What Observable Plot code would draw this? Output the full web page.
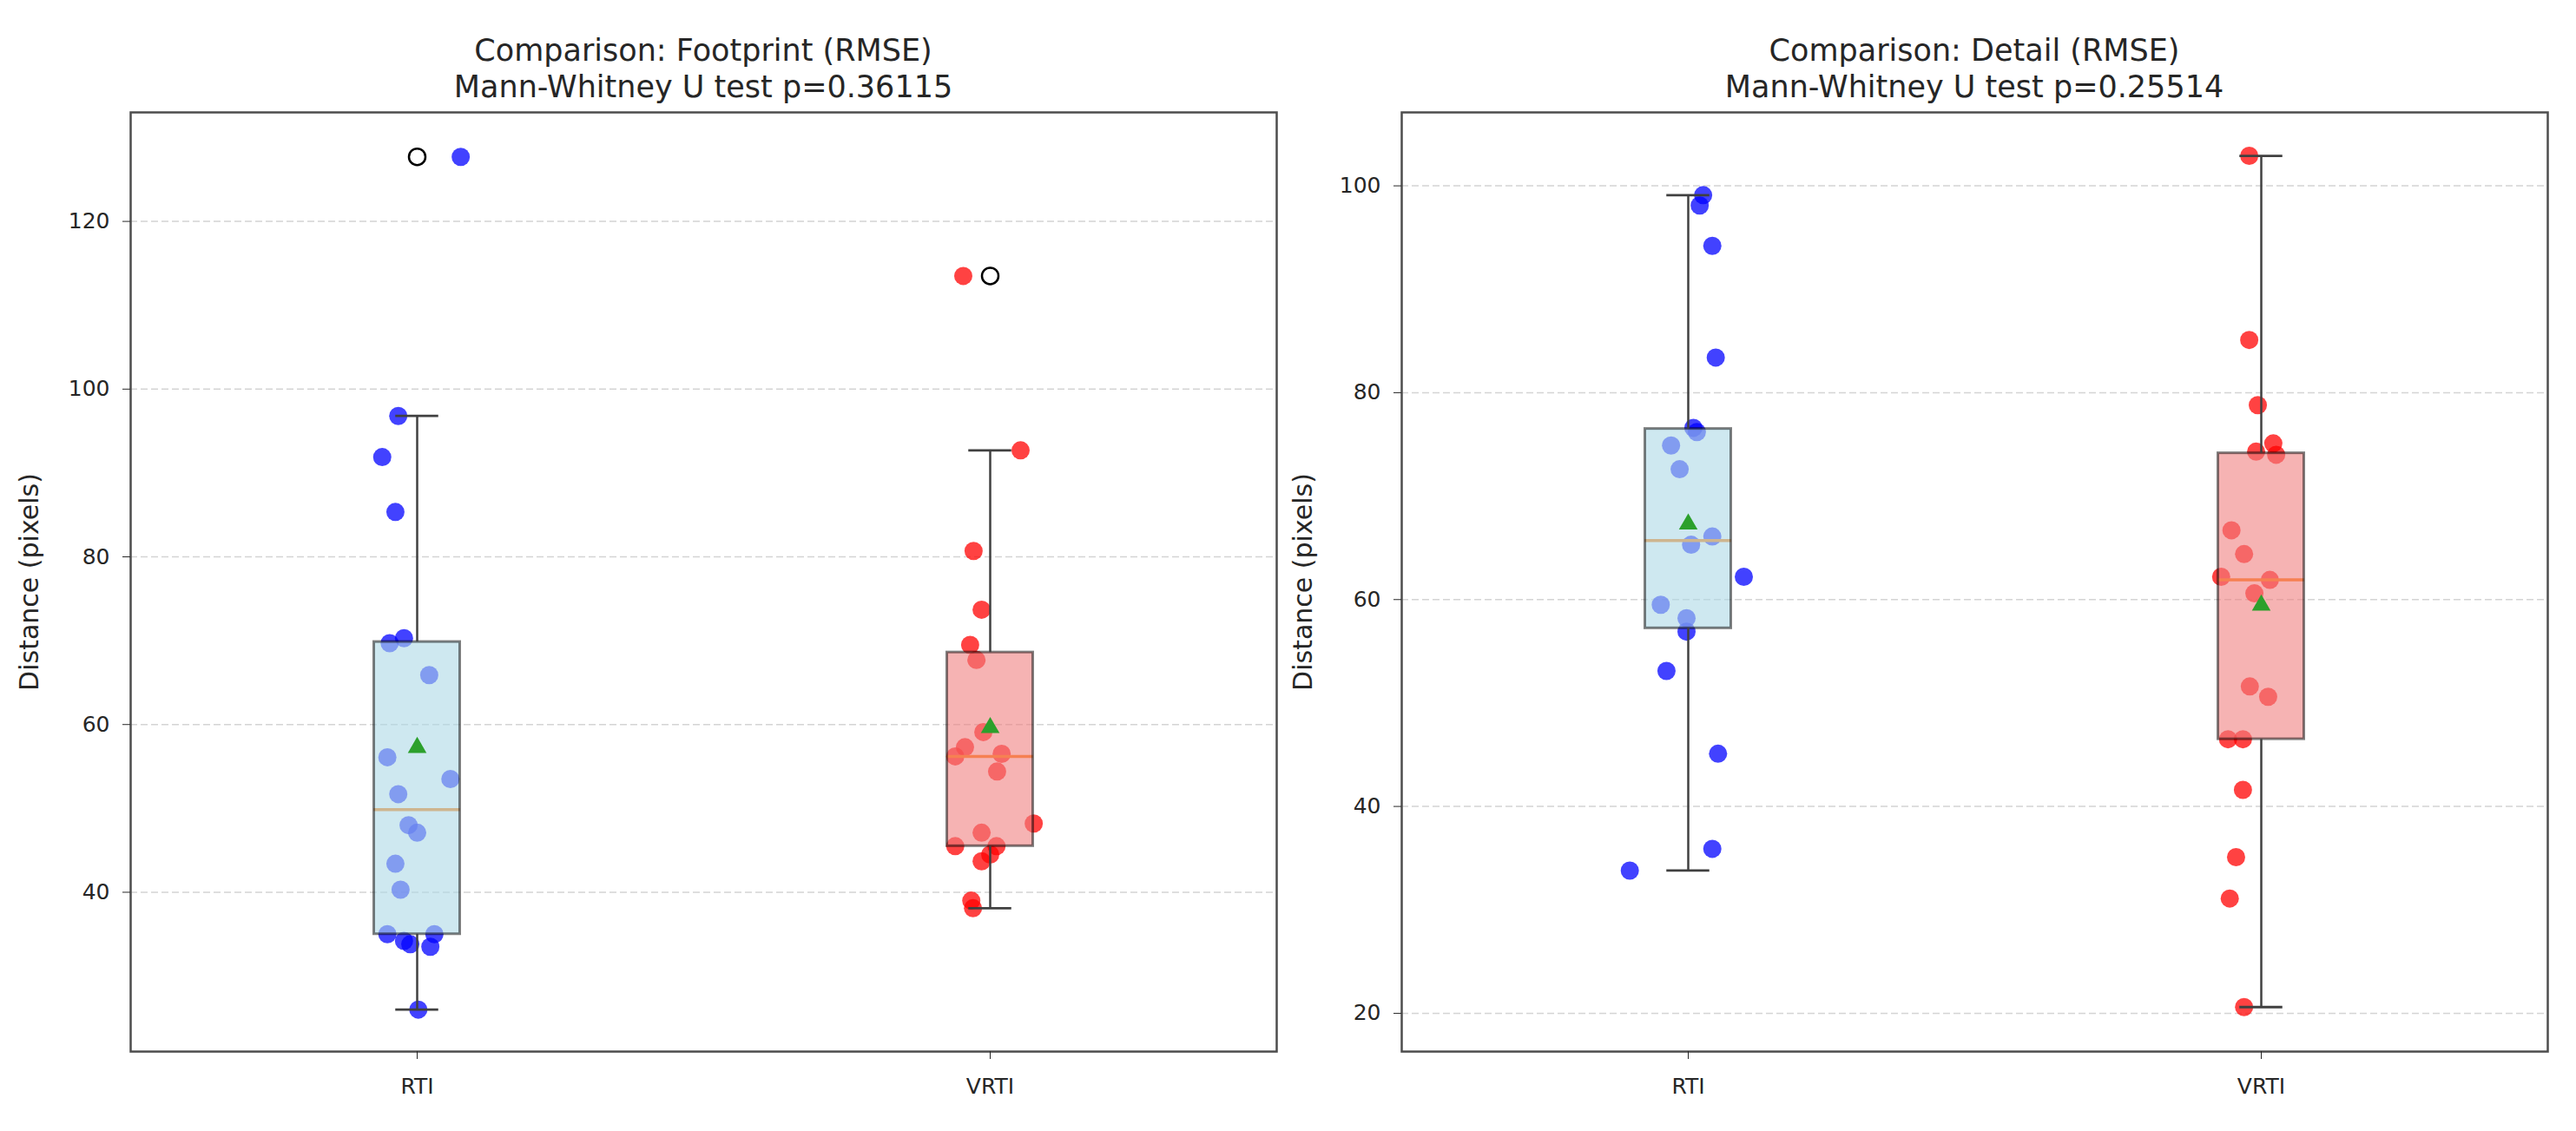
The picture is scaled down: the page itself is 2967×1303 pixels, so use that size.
<!DOCTYPE html>
<html><head><meta charset="utf-8">
<script src="https://cdn.jsdelivr.net/npm/d3@7"></script>
<script src="https://cdn.jsdelivr.net/npm/@observablehq/plot@0.6"></script>
<style>
body{margin:0;background:#fff;}
#wrap{position:relative;width:2967px;height:1303px;overflow:hidden;font-family:"DejaVu Sans",sans-serif;background:#fff;}
.title{position:absolute;text-align:center;font-size:35px;line-height:42px;color:#262626;white-space:pre;z-index:2;}
.panel{position:absolute;top:109px;z-index:1;}
</style></head><body>
<div id="wrap">
  <div class="title" id="title0" style="left:150px;width:1320px;top:37px"></div>
  <div class="title" id="title1" style="left:1614px;width:1320px;top:37px"></div>
  <div class="panel" id="panel0" style="left:0px"></div>
  <div class="panel" id="panel1" style="left:1470px"></div>
</div>
<script>
// ---- data ----
const groups = ["RTI", "VRTI"];
const groupColors = ["blue", "red"];
const boxColors = ["lightblue", "lightcoral"];
const titles = ["Comparison: Footprint (RMSE)", "Comparison: Detail (RMSE)"];
const pValues = ["0.36115", "0.25514"];
const yLabel = "Distance (pixels)";

const footprintRTI = [127.7, 96.8, 91.9, 85.35, 70.3, 69.7, 65.9, 56.1, 53.5, 51.7, 48.0, 47.1, 43.4, 40.3, 35.0, 34.2, 33.8, 35.0, 33.5, 26.0];
const footprintRTIJitter = [0.076, -0.033, -0.061, -0.038, -0.023, -0.048, 0.021, -0.052, 0.058, -0.033, -0.015, 0.0, -0.038, -0.029, -0.052, -0.023, -0.012, 0.030, 0.023, 0.002];
const footprintVRTI = [113.5, 92.7, 80.7, 73.7, 69.5, 67.7, 59.1, 57.3, 56.2, 56.5, 54.4, 48.2, 47.1, 45.5, 45.5, 44.5, 43.7, 39.0, 38.1];
const footprintVRTIJitter = [-0.047, 0.053, -0.029, -0.015, -0.035, -0.024, -0.012, -0.044, -0.061, 0.020, 0.012, 0.076, -0.015, -0.061, 0.011, 0.0, -0.015, -0.033, -0.030];

const detailRTI = [99.1, 98.1, 94.2, 83.4, 76.6, 76.2, 74.9, 72.6, 66.1, 65.3, 62.2, 59.5, 58.2, 56.9, 53.1, 45.1, 35.9, 33.8];
const detailRTIJitter = [0.026, 0.020, 0.042, 0.048, 0.009, 0.015, -0.030, -0.015, 0.042, 0.005, 0.097, -0.048, -0.003, -0.003, -0.038, 0.052, 0.042, -0.102];
const detailVRTI = [102.9, 85.1, 78.8, 75.1, 74.3, 74.0, 66.7, 64.4, 62.2, 61.9, 60.6, 51.6, 50.6, 46.5, 46.5, 41.6, 35.1, 31.1, 20.6];
const detailVRTIJitter = [-0.021, -0.021, -0.006, 0.021, -0.009, 0.026, -0.052, -0.030, -0.070, 0.015, -0.012, -0.020, 0.012, -0.058, -0.032, -0.032, -0.044, -0.055, -0.030];

const footprintTicks = [40, 60, 80, 100, 120];
const detailTicks = [20, 40, 60, 80, 100];
const footprintDomain = [21, 133];
const detailDomain = [16.3, 107.1];

// ---- helpers ----
function boxStats(vals, pos) {
  const s = vals.slice().sort(d3.ascending);
  const q1 = d3.quantile(s, 0.25), med = d3.quantile(s, 0.5), q3 = d3.quantile(s, 0.75);
  const iqr = q3 - q1, loF = q1 - 1.5 * iqr, hiF = q3 + 1.5 * iqr;
  const inside = s.filter(v => v >= loF && v <= hiF);
  return {pos, g: pos - 1, q1, med, q3, lo: d3.min(inside), hi: d3.max(inside), mean: d3.mean(s),
          fliers: s.filter(v => v < loF || v > hiF)};
}

function panel(cfg) {
  const st = cfg.series.map((s, i) => boxStats(s.values, i + 1));
  const pts = cfg.series.flatMap((s, i) => s.values.map((v, j) => ({x: i + 1 + s.jitter[j], y: v, g: i})));
  const fl = st.flatMap(d => d.fliers.map(v => ({x: d.pos, y: v})));
  const hw = 0.075, cw = 0.0375;
  const edge = "#404040";
  return Plot.plot({
    width: 1480, height: 1202,
    marginLeft: cfg.ml, marginRight: cfg.mr, marginTop: 20, marginBottom: 100,
    style: {fontFamily: "DejaVu Sans", fontSize: "25px", color: "#262626", background: "transparent", overflow: "visible"},
    x: {type: "linear", domain: [0.5, 2.5]},
    y: {domain: cfg.yDomain},
    color: {type: "identity"},
    marks: [
      Plot.ruleY(cfg.yTicks, {stroke: "#b8b8b8", strokeOpacity: 0.6, strokeDasharray: "8,4", strokeWidth: 1.5}),
      Plot.dot(pts, {x: "x", y: "y", r: 10.5, fill: d => groupColors[d.g], fillOpacity: 0.74, stroke: "none"}),
      Plot.ruleY(st, {y: "med", x1: d => d.pos - hw, x2: d => d.pos + hw, stroke: "#ff7f0e", strokeWidth: 3.5}),
      Plot.rect(st, {x1: d => d.pos - hw, x2: d => d.pos + hw, y1: "q1", y2: "q3",
                     fill: d => boxColors[d.g], fillOpacity: 0.6, stroke: "black", strokeOpacity: 0.5, strokeWidth: 3}),
      Plot.ruleX(st, {x: "pos", y1: "q3", y2: "hi", stroke: edge, strokeWidth: 2.5}),
      Plot.ruleX(st, {x: "pos", y1: "lo", y2: "q1", stroke: edge, strokeWidth: 2.5}),
      Plot.ruleY(st, {y: "hi", x1: d => d.pos - cw, x2: d => d.pos + cw, stroke: edge, strokeWidth: 2.8}),
      Plot.ruleY(st, {y: "lo", x1: d => d.pos - cw, x2: d => d.pos + cw, stroke: edge, strokeWidth: 2.8}),
      Plot.dot(st, {x: "pos", y: "mean", symbol: "triangle", r: 8, fill: "#2ca02c", stroke: "none"}),
      Plot.dot(fl, {x: "x", y: "y", r: 9.5, stroke: "black", strokeWidth: 2.5, fill: "none"}),
      Plot.frame({stroke: "#4d4d4d", strokeWidth: 2.5}),
      Plot.axisY(cfg.yTicks, {tickSize: 9, tickPadding: 15, fontSize: 25, label: null}),
      Plot.axisY({label: yLabel, labelAnchor: "center", labelArrow: "none", labelOffset: cfg.labelOffset,
                  fontSize: 30, ticks: [], tickSize: 0}),
      Plot.axisX([1, 2], {tickSize: 9, tickPadding: 22, tickFormat: d => groups[d - 1], label: null, fontSize: 25})
    ]
  });
}

const cfgs = [
  {series: [{values: footprintRTI, jitter: footprintRTIJitter}, {values: footprintVRTI, jitter: footprintVRTIJitter}],
   yDomain: footprintDomain, yTicks: footprintTicks, ml: 150, mr: 10, labelOffset: 128},
  {series: [{values: detailRTI, jitter: detailRTIJitter}, {values: detailVRTI, jitter: detailVRTIJitter}],
   yDomain: detailDomain, yTicks: detailTicks, ml: 144, mr: 16, labelOffset: 125}
];

cfgs.forEach((cfg, i) => {
  document.getElementById("title" + i).textContent = titles[i] + "\nMann-Whitney U test p=" + pValues[i];
  document.getElementById("panel" + i).appendChild(panel(cfg));
});
</script>
</body></html>
